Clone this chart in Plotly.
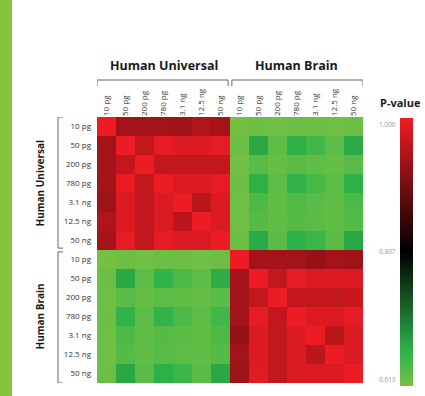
import numpy as np
import plotly.graph_objects as go

samples = ["10 pg", "50 pg", "200 pg", "780 pg", "3.1 ng", "12.5 ng", "50 ng"]
groups = ["Human Universal", "Human Brain"]
cbar_ticks = [1.000, 0.807, 0.613]
cbar_labels = ["1.000", "0.807", "0.613"]

# P-values: Human Universal rows x Human Universal cols
hu_hu = [
    [1.000, 0.940, 0.940, 0.940, 0.935, 0.950, 0.940],
    [0.940, 1.000, 0.965, 0.995, 0.985, 0.985, 0.995],
    [0.940, 0.965, 1.000, 0.965, 0.965, 0.965, 0.965],
    [0.940, 0.995, 0.965, 1.000, 0.985, 0.985, 0.995],
    [0.935, 0.985, 0.965, 0.985, 1.000, 0.958, 0.985],
    [0.950, 0.985, 0.965, 0.985, 0.958, 1.000, 0.985],
    [0.940, 0.995, 0.965, 0.995, 0.985, 0.985, 1.000],
]
# Human Universal rows x Human Brain cols
hu_hb = [
    [0.615, 0.620, 0.618, 0.620, 0.620, 0.618, 0.620],
    [0.620, 0.672, 0.630, 0.665, 0.650, 0.630, 0.670],
    [0.618, 0.632, 0.625, 0.632, 0.628, 0.625, 0.632],
    [0.620, 0.665, 0.630, 0.662, 0.645, 0.630, 0.665],
    [0.618, 0.640, 0.628, 0.638, 0.632, 0.628, 0.640],
    [0.618, 0.635, 0.628, 0.635, 0.632, 0.628, 0.638],
    [0.620, 0.670, 0.632, 0.665, 0.655, 0.632, 0.672],
]
# Human Brain rows x Human Universal cols
hb_hu = [
    [0.615, 0.620, 0.618, 0.620, 0.620, 0.618, 0.620],
    [0.620, 0.672, 0.630, 0.660, 0.640, 0.630, 0.668],
    [0.618, 0.632, 0.625, 0.630, 0.628, 0.625, 0.632],
    [0.620, 0.662, 0.630, 0.660, 0.640, 0.630, 0.650],
    [0.618, 0.640, 0.628, 0.636, 0.632, 0.628, 0.640],
    [0.618, 0.636, 0.628, 0.634, 0.630, 0.628, 0.636],
    [0.620, 0.672, 0.632, 0.665, 0.655, 0.632, 0.672],
]
# Human Brain rows x Human Brain cols
hb_hb = [
    [1.000, 0.940, 0.940, 0.940, 0.930, 0.940, 0.935],
    [0.940, 1.000, 0.965, 0.995, 0.985, 0.985, 0.985],
    [0.940, 0.965, 1.000, 0.965, 0.965, 0.965, 0.970],
    [0.940, 0.995, 0.965, 1.000, 0.985, 0.985, 0.995],
    [0.930, 0.985, 0.965, 0.985, 1.000, 0.958, 0.985],
    [0.940, 0.985, 0.965, 0.985, 0.958, 1.000, 0.985],
    [0.935, 0.990, 0.965, 0.985, 0.985, 0.985, 1.000],
]

z = np.block([[np.array(hu_hu), np.array(hu_hb)],
              [np.array(hb_hu), np.array(hb_hb)]])
n = len(samples)
N = 2 * n
labels = samples + samples
idx = list(range(N))

zmin, zmax = min(cbar_ticks), max(cbar_ticks)
colorscale = [[0.0, "#76c143"], [0.13, "#2db34a"], [0.5, "#000000"], [1.0, "#ed1c24"]]

W, H = 425, 396
FONT = "Open Sans"

fig = go.Figure()
cb_top = 118
cb_bot = 386
fig.add_trace(go.Heatmap(
    z=z, x=idx, y=idx, zmin=zmin, zmax=zmax, colorscale=colorscale,
    colorbar=dict(
        orientation="v", x=400 / W, xanchor="left", xpad=0, ypad=0,
        y=(H - cb_top) / H, yanchor="top", len=(cb_bot - cb_top) / H,
        lenmode="fraction", thickness=13, outlinewidth=0,
        showticklabels=False, ticks="",
    ),
    showscale=True,
))

ann = []
# group titles on top
for gi, g in enumerate(groups):
    ann.append(dict(text="<b>%s</b>" % g, xref="x", yref="paper",
                    x=gi * n + (n - 1) / 2, y=(H - 65) / H,
                    showarrow=False, font=dict(family=FONT, size=12.5, color="#1a1a1a"),
                    xanchor="center", yanchor="middle"))
    ann.append(dict(text="<b>%s</b>" % g, xref="paper", yref="y",
                    x=39 / W, y=gi * n + (n - 1) / 2, textangle=-90,
                    showarrow=False, font=dict(family=FONT, size=10, color="#1a1a1a"),
                    xanchor="center", yanchor="middle"))
ann.append(dict(text="<b>P-value</b>", xref="paper", yref="paper",
                x=400 / W, y=(H - 103) / H, showarrow=False,
                font=dict(family=FONT, size=11, color="#1a1a1a"),
                xanchor="center", yanchor="middle"))
# colorbar labels
anchors = ["top", "middle", "bottom"]
for v, lab, a in zip(cbar_ticks, cbar_labels, anchors):
    frac = (v - zmin) / (zmax - zmin)
    ypx = cb_bot - frac * (cb_bot - cb_top)
    ann.append(dict(text=lab, xref="paper", yref="paper", x=398 / W,
                    y=(H - ypx) / H, xanchor="right", yanchor=a, showarrow=False,
                    font=dict(family=FONT, size=6.5, color="#999999")))

shapes = []
# left green strip
shapes.append(dict(type="rect", xref="paper", yref="paper", x0=0, x1=12 / W,
                   y0=0, y1=1, fillcolor="#86c440", line=dict(width=0), layer="below"))
# brackets
bc = "#666666"
yb = (H - 80) / H
yb2 = (H - 86) / H
xl = 58 / W
xl2 = 63 / W
for gi in range(2):
    a0 = gi * n - 0.5 + (0.1 if gi else 0)
    a1 = gi * n + n - 0.5 - (0.1 if gi == 0 else 0)
    shapes.append(dict(type="line", xref="x", yref="paper", x0=a0, x1=a1, y0=yb, y1=yb,
                       line=dict(color=bc, width=1)))
    for a in (a0, a1):
        shapes.append(dict(type="line", xref="x", yref="paper", x0=a, x1=a, y0=yb, y1=yb2,
                           line=dict(color=bc, width=1)))
    shapes.append(dict(type="line", xref="paper", yref="y", x0=xl, x1=xl, y0=a0, y1=a1,
                       line=dict(color=bc, width=1)))
    for a in (a0, a1):
        shapes.append(dict(type="line", xref="paper", yref="y", x0=xl, x1=xl2, y0=a, y1=a,
                           line=dict(color=bc, width=1)))

fig.update_layout(
    width=W, height=H, autosize=False,
    margin=dict(l=0, r=0, t=0, b=0),
    paper_bgcolor="white", plot_bgcolor="white",
    font=dict(family=FONT, size=8, color="#333333"),
    annotations=ann, shapes=shapes,
    xaxis=dict(domain=[97 / W, 363 / W], range=[-0.5, N - 0.5], side="top",
               tickvals=idx, ticktext=labels, tickangle=-90,
               tickfont=dict(family=FONT, size=8, color="#333333"),
               showgrid=False, zeroline=False, ticks="", showline=False,
               automargin=False),
    yaxis=dict(domain=[13 / H, 279 / H], range=[N - 0.5, -0.5],
               tickvals=idx, ticktext=labels,
               tickfont=dict(family=FONT, size=8, color="#333333"),
               showgrid=False, zeroline=False, ticks="", showline=False,
               ticklabelstandoff=5, automargin=False),
)

fig.write_html("out.html", config={"displayModeBar": False},
               post_script="document.body.style.margin='0';document.body.style.overflow='hidden';")
